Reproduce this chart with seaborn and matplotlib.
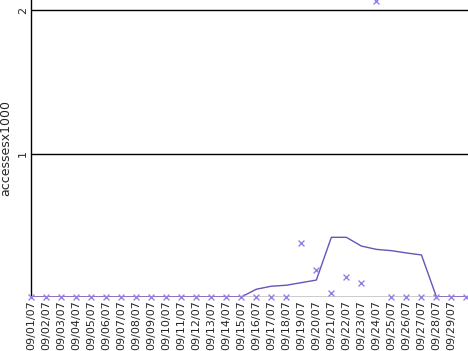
import matplotlib
matplotlib.use("Agg")
import matplotlib.pyplot as plt
import seaborn as sns
import pandas as pd

dates = [f"09/{d:02d}/07" for d in range(1, 31)]
tick_labels = dates[:29]
accesses = [0]*18 + [0.376, 0.188, 0.028, 0.137, 0.097, 2.065] + [0]*6
trend = [0]*15 + [0.054, 0.075, 0.082, 0.100, 0.118, 0.416, 0.416, 0.355, 0.332,
                  0.323, 0.307, 0.293, 0, 0, 0]

df = pd.DataFrame({"day": list(range(len(dates))), "date": dates,
                   "accesses": accesses, "trend": trend})

sns.set_style("white")
plt.rcParams['font.family'] = ['DejaVu Sans']

fig = plt.figure(figsize=(4.68, 3.51), dpi=100)
ax = fig.add_axes([31/468, 54/351, 1 - 31/468, 297/351])

for yv in [0, 1, 2]:
    ax.axhline(yv, color="black", lw=1, zorder=1)

sns.lineplot(data=df, x="day", y="trend", ax=ax, color="#6a52b8", lw=1, zorder=3)
sns.scatterplot(data=df, x="day", y="accesses", ax=ax, marker="x", color="#9a7fe6",
                s=18, linewidth=1, zorder=4, clip_on=False)

ax.set_xlim(0, 29.1)
ax.set_ylim(0, 2.07)
ax.set_xticks(range(len(tick_labels)))
ax.set_xticklabels(tick_labels, rotation=90, fontsize=8)
ax.set_yticks([1, 2])
ax.set_yticklabels(["1", "2"], rotation=90, fontsize=8, va="center")
ax.tick_params(length=0, pad=2)
ax.set_xlabel("")
ax.set_ylabel("accessesx1000", fontsize=9, labelpad=4)
for s in ["top", "right", "bottom"]:
    ax.spines[s].set_visible(False)
ax.spines["left"].set_color("black")
ax.spines["left"].set_linewidth(1)

fig.savefig("out.png", dpi=100)
